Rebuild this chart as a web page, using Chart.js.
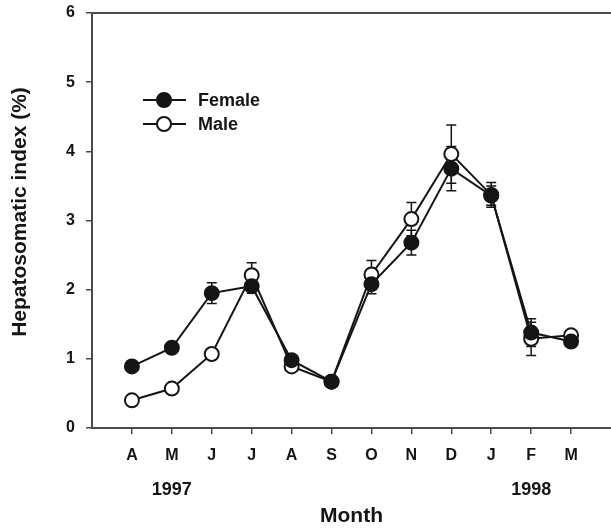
<!DOCTYPE html>
<html>
<head>
  <meta charset="UTF-8">
  <title>Hepatosomatic index</title>
  <script src="https://cdn.jsdelivr.net/npm/chart.js"></script>
  <style>
    body { margin: 0; background: #fff; }
    #hsiChart { display: block; }
  </style>
</head>
<body>
<canvas id="hsiChart" width="611" height="529"></canvas>
<script>
  // months from April 1997 to March 1998
  const months = ['A', 'M', 'J', 'J', 'A', 'S', 'O', 'N', 'D', 'J', 'F', 'M'];
  const femaleHsi = [0.89, 1.16, 1.95, 2.05, 0.98, 0.67, 2.08, 2.68, 3.75, 3.36, 1.38, 1.25];
  const femaleSe = [0.05, 0.05, 0.15, 0.1, 0.05, 0.03, 0.14, 0.18, 0.32, 0.14, 0.2, 0.05];
  const maleHsi = [0.40, 0.57, 1.07, 2.21, 0.89, 0.67, 2.22, 3.02, 3.96, 3.37, 1.29, 1.34];
  const maleSe = [0.03, 0.03, 0.05, 0.18, 0.05, 0.03, 0.2, 0.24, 0.42, 0.18, 0.24, 0.05];
  const yearLabels = [{ at: 1, text: '1997' }, { at: 10, text: '1998' }];
  const yTitle = 'Hepatosomatic index (%)';

  const ink = '#151515';
  const axisGrey = '#4a4a4a';
  const font = 'Liberation Sans, Arial, sans-serif';

  const toPoints = vals => vals.map((v, i) => ({ x: i, y: v }));

  // error bars, drawn under the markers
  const errorBars = {
    id: 'errorBars',
    beforeDatasetsDraw(chart) {
      const { ctx, scales: { x, y } } = chart;
      const sets = [[femaleHsi, femaleSe], [maleHsi, maleSe]];
      ctx.save();
      ctx.strokeStyle = ink;
      ctx.lineWidth = 1.5;
      sets.forEach(([vals, errs]) => {
        vals.forEach((v, i) => {
          const px = x.getPixelForValue(i);
          const top = y.getPixelForValue(v + errs[i]);
          const bot = y.getPixelForValue(v - errs[i]);
          ctx.beginPath();
          ctx.moveTo(px, top); ctx.lineTo(px, bot);
          ctx.moveTo(px - 5, top); ctx.lineTo(px + 5, top);
          ctx.moveTo(px - 5, bot); ctx.lineTo(px + 5, bot);
          ctx.stroke();
        });
      });
      ctx.restore();
    }
  };

  // top frame line, y title, year labels and the legend
  const extras = {
    id: 'extras',
    afterDraw(chart) {
      const { ctx, chartArea, scales: { x } } = chart;
      ctx.save();
      ctx.strokeStyle = axisGrey;
      ctx.lineWidth = 2;
      ctx.beginPath();
      ctx.moveTo(chartArea.left, chartArea.top);
      ctx.lineTo(chartArea.right, chartArea.top);
      ctx.stroke();

      ctx.fillStyle = ink;
      ctx.textAlign = 'center';
      ctx.textBaseline = 'middle';

      ctx.save();
      ctx.font = 'bold 21px ' + font;
      ctx.translate(20, 212);
      ctx.rotate(-Math.PI / 2);
      ctx.fillText(yTitle, 0, 0);
      ctx.restore();

      ctx.font = 'bold 18px ' + font;
      yearLabels.forEach(l => ctx.fillText(l.text, x.getPixelForValue(l.at), 490));

      // legend
      const rows = [{ label: 'Female', fill: ink, y: 100 }, { label: 'Male', fill: '#fff', y: 124 }];
      rows.forEach(r => {
        ctx.strokeStyle = ink;
        ctx.lineWidth = 2;
        ctx.beginPath();
        ctx.moveTo(143, r.y); ctx.lineTo(186, r.y);
        ctx.stroke();
        ctx.beginPath();
        ctx.arc(164, r.y, 7, 0, Math.PI * 2);
        ctx.fillStyle = r.fill;
        ctx.fill();
        ctx.stroke();
        ctx.fillStyle = ink;
        ctx.textAlign = 'left';
        ctx.fillText(r.label, 198, r.y + 1);
      });
      ctx.restore();
    }
  };

  const ctx = document.getElementById('hsiChart').getContext('2d');
  new Chart(ctx, {
    type: 'line',
    data: {
      datasets: [{
        label: 'Female',
        data: toPoints(femaleHsi),
        borderColor: ink,
        borderWidth: 2,
        pointRadius: 7,
        pointBorderWidth: 2,
        pointBackgroundColor: ink,
        pointBorderColor: ink,
        tension: 0
      }, {
        label: 'Male',
        data: toPoints(maleHsi),
        borderColor: ink,
        borderWidth: 2,
        pointRadius: 7,
        pointBorderWidth: 2,
        pointBackgroundColor: '#fff',
        pointBorderColor: ink,
        tension: 0
      }]
    },
    options: {
      responsive: false,
      devicePixelRatio: 1,
      animation: false,
      layout: { autoPadding: false, padding: { top: 13, right: 0, left: 0, bottom: 0 } },
      plugins: { legend: { display: false }, tooltip: { enabled: false } },
      scales: {
        x: {
          type: 'linear',
          min: -1,
          max: 12,
          afterBuildTicks: scale => { scale.ticks = months.map((m, i) => ({ value: i })); },
          afterFit: scale => {
            scale.height = 101;
            scale.paddingLeft = 0;
            scale.paddingRight = 0;
          },
          grid: { drawOnChartArea: false, drawTicks: true, tickLength: 6, color: axisGrey, lineWidth: 1.5 },
          border: { display: true, color: axisGrey, width: 2 },
          ticks: {
            autoSkip: false,
            maxRotation: 0,
            padding: 12,
            color: ink,
            font: { family: font, size: 16, weight: 'bold' },
            callback: v => months[v]
          },
          title: {
            display: true,
            text: 'Month',
            color: ink,
            font: { family: font, size: 21, weight: 'bold' },
            padding: { top: 0, bottom: 0 }
          }
        },
        y: {
          min: 0,
          max: 6,
          afterFit: scale => {
            scale.width = 92;
            scale.paddingTop = 0;
            scale.paddingBottom = 0;
          },
          grid: { drawOnChartArea: false, drawTicks: true, tickLength: 6, color: axisGrey, lineWidth: 1.5 },
          border: { display: true, color: axisGrey, width: 2 },
          ticks: {
            stepSize: 1,
            padding: 11,
            color: ink,
            font: { family: font, size: 16, weight: 'bold' }
          },
          title: { display: false }
        }
      }
    },
    plugins: [errorBars, extras]
  });
</script>
</body>
</html>
